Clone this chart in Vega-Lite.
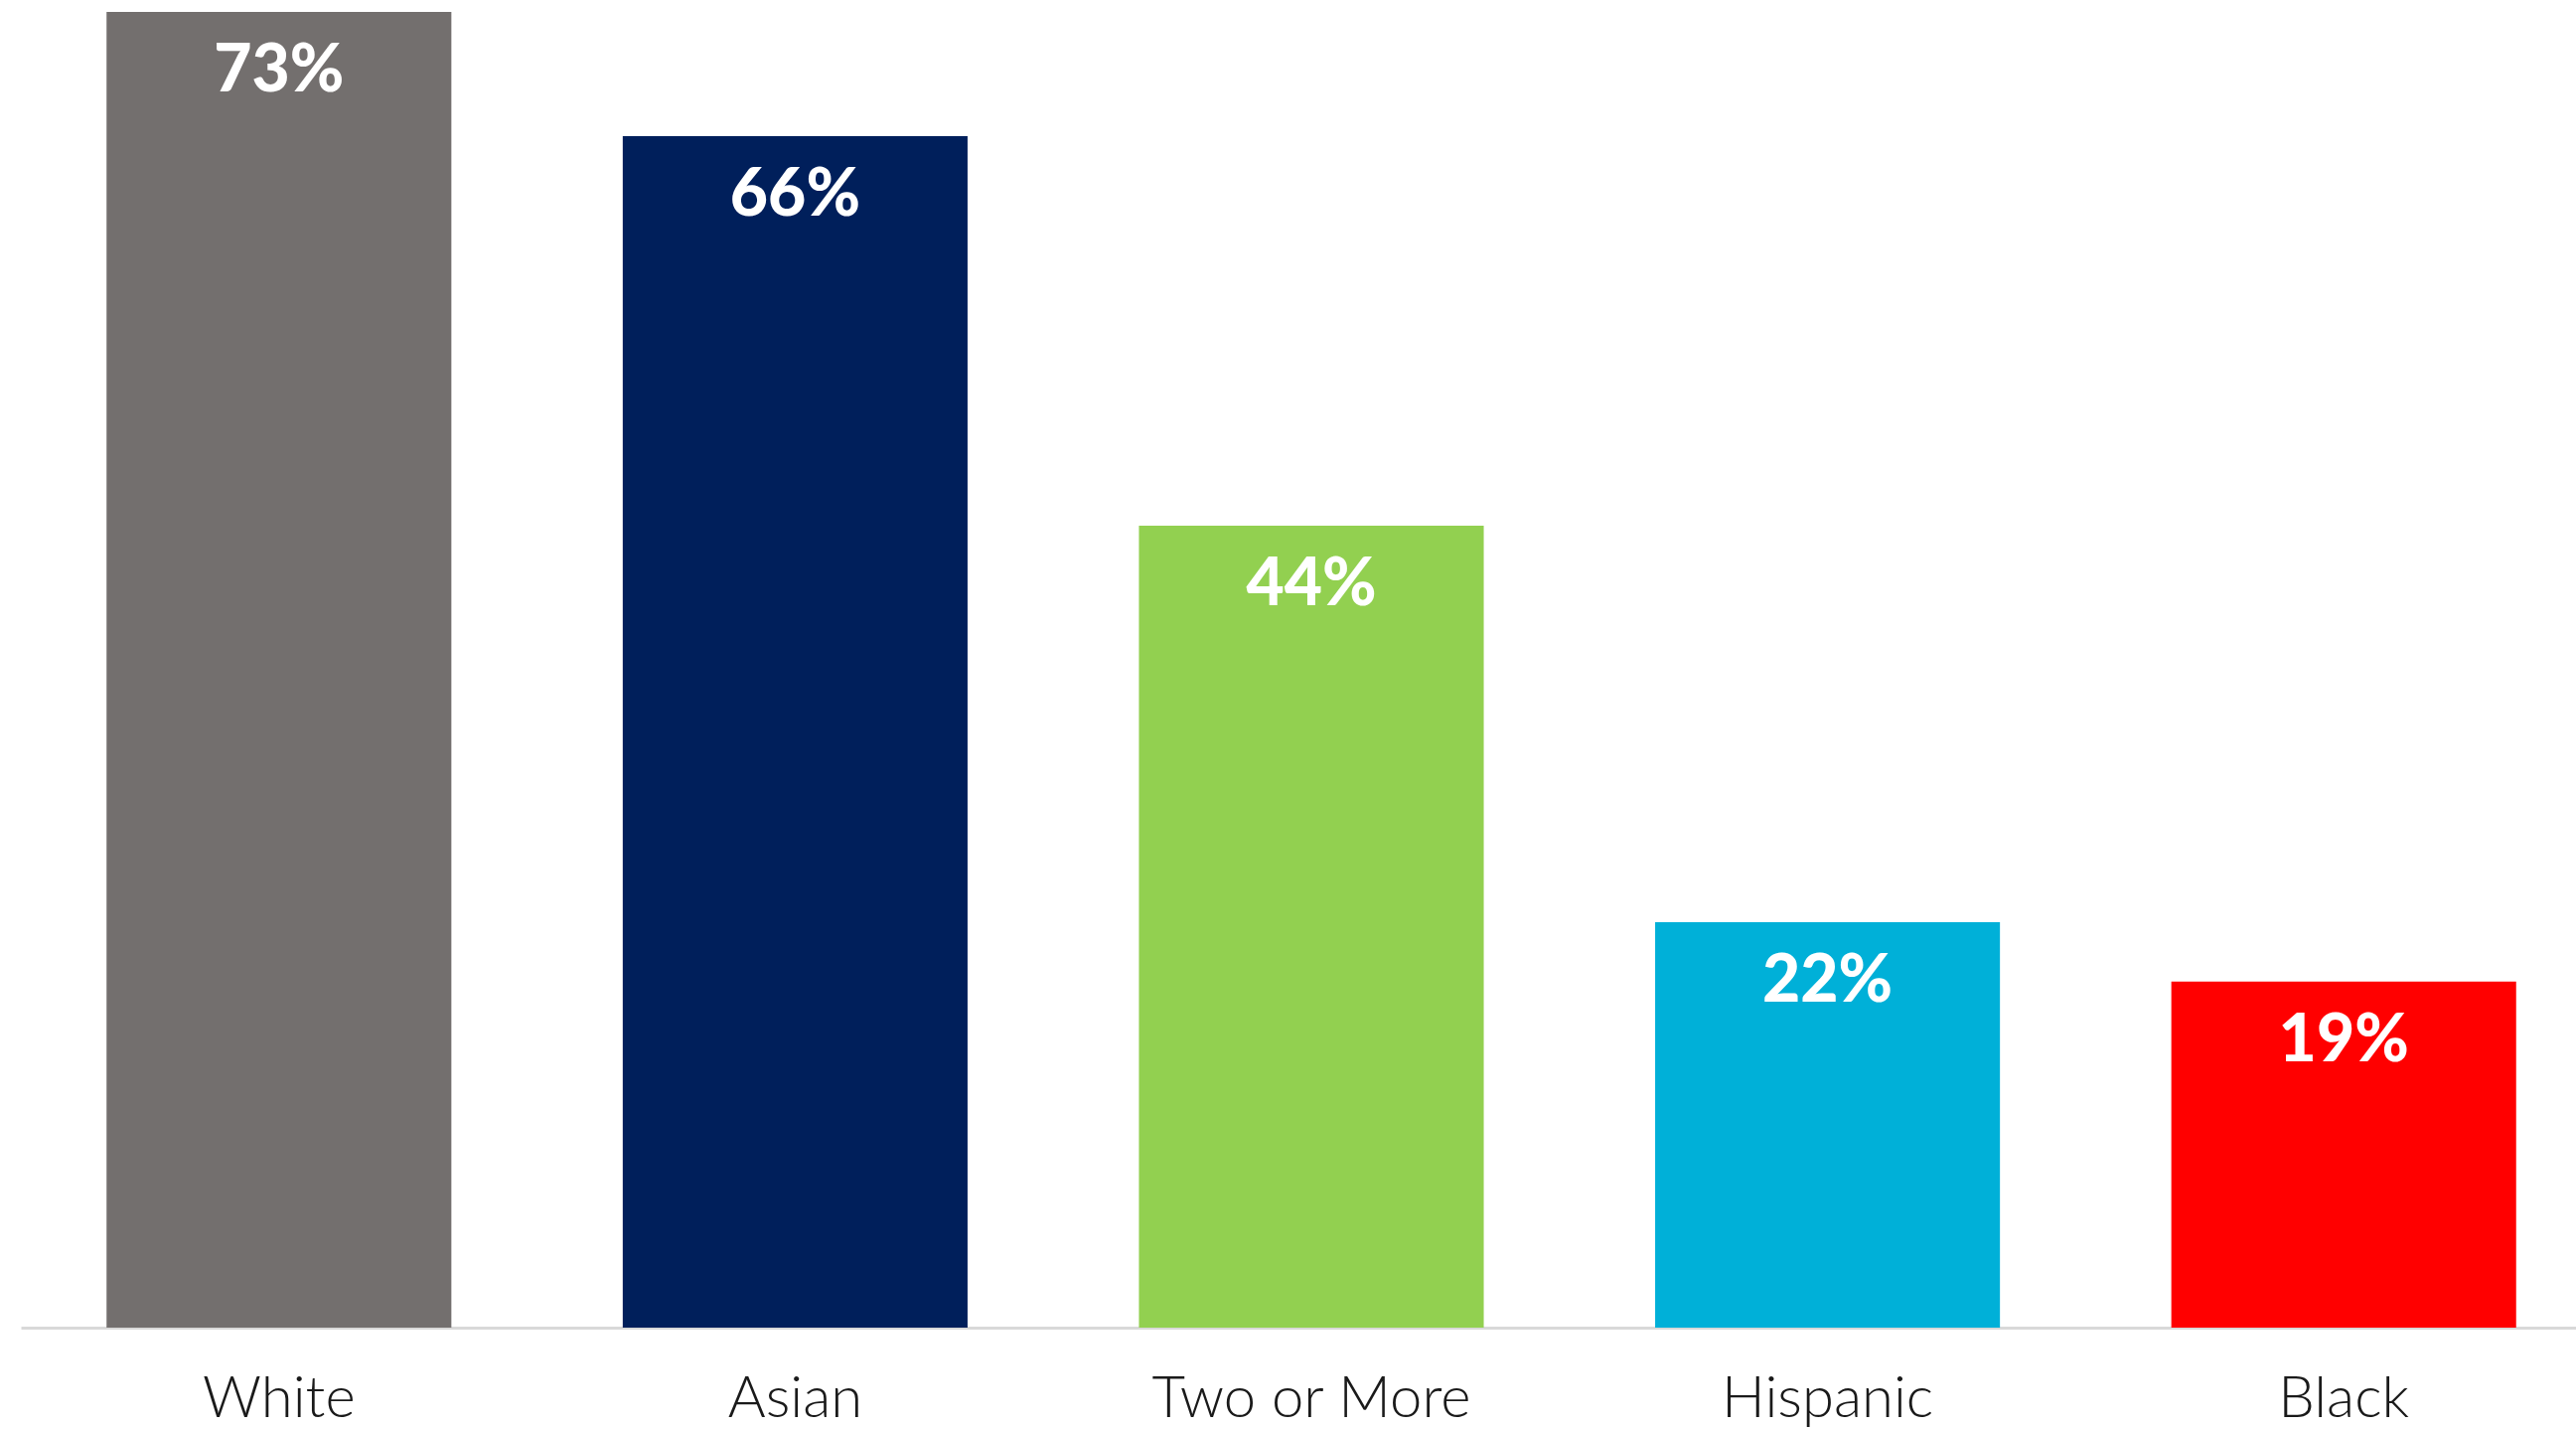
{
  "$schema": "https://vega.github.io/schema/vega-lite/v6.json",
  "width": 2598,
  "height": 1336,
  "autosize": "none",
  "padding": {"left": 21, "top": 0, "right": 0, "bottom": 102},
  "background": "white",
  "config": {"view": {"stroke": null}},
  "data": {
    "values": [
      {"group": "White", "value": 73.0, "label": "73%"},
      {"group": "Asian", "value": 66.1, "label": "66%"},
      {"group": "Two or More", "value": 44.5, "label": "44%"},
      {"group": "Hispanic", "value": 22.5, "label": "22%"},
      {"group": "Black", "value": 19.2, "label": "19%"}
    ]
  },
  "encoding": {
    "x": {
      "field": "group",
      "type": "nominal",
      "sort": null,
      "scale": {"paddingInner": 0.332, "paddingOuter": 0.166},
      "axis": {
        "title": null,
        "labelAngle": 0,
        "labelLimit": 0,
        "ticks": false,
        "domain": true,
        "domainColor": "#D9D9D9",
        "domainWidth": 3,
        "labelFont": "Lato",
        "labelFontWeight": 300,
        "labelFontSize": 58,
        "labelColor": "#1a1a1a",
        "labelPadding": 43
      }
    },
    "y": {
      "field": "value",
      "type": "quantitative",
      "scale": {"domain": [0, 73.66], "nice": false, "zero": true},
      "axis": null
    }
  },
  "layer": [
    {
      "mark": {"type": "bar"},
      "encoding": {
        "color": {
          "field": "group",
          "type": "nominal",
          "scale": {
            "domain": ["White", "Asian", "Two or More", "Hispanic", "Black"],
            "range": ["#736F6E", "#001F5B", "#92D050", "#00B0D8", "#FF0000"]
          },
          "legend": null
        }
      }
    },
    {
      "mark": {
        "type": "text",
        "baseline": "middle",
        "align": "center",
        "dy": 60,
        "font": "Lato",
        "fontWeight": 900,
        "fontSize": 66,
        "color": "white"
      },
      "encoding": {"text": {"field": "label"}}
    }
  ]
}
